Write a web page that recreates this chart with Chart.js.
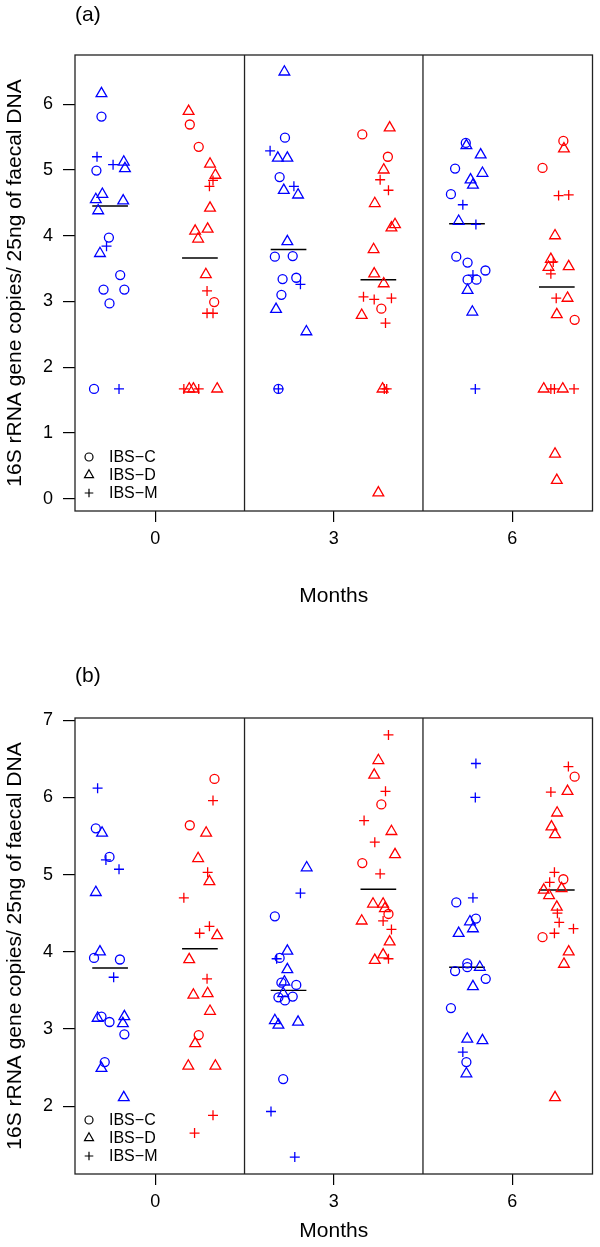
<!DOCTYPE html>
<html>
<head>
<meta charset="utf-8">
<title>16S rRNA gene copies by month</title>
<script src="https://cdn.jsdelivr.net/npm/chart.js@4.4.0/dist/chart.umd.min.js"></script>
<style>
  body { margin: 0; background: #fff; }
  canvas { display: block; }
</style>
</head>
<body>
<canvas id="chartA" width="600" height="620"></canvas>
<canvas id="chartB" width="600" height="627"></canvas>
<script>
// x axis groups
const months = [0, 3, 6];
const monthLabels = ['0', '3', '6'];
const yTicksA = [0, 1, 2, 3, 4, 5, 6];
const yTicksB = [2, 3, 4, 5, 6, 7];
const groupNames = ['IBS\u2212C', 'IBS\u2212D', 'IBS\u2212M'];

// panel (a) - points as [x, y], x already has the jitter seen in the figure
const aBlueC = [[-0.905,5.81],[-0.99,4.99],[-0.78,3.97],[-0.59,3.40],[-0.87,3.18],[-0.52,3.18],[-0.77,2.97],[-1.03,1.67],
  [2.18,5.49],[2.09,4.89],[2.01,3.68],[2.31,3.69],[2.14,3.34],[2.37,3.36],[2.12,3.10],[2.07,1.67],
  [5.22,5.41],[5.04,5.02],[4.97,4.63],[5.06,3.68],[5.25,3.59],[5.55,3.47],[5.25,3.33],[5.40,3.33]];
const aBlueD = [[-0.905,6.16],[-0.53,5.12],[-0.51,5.02],[-0.89,4.63],[-1.0,4.55],[-0.54,4.53],[-0.96,4.38],[-0.93,3.73],
  [2.17,6.49],[2.06,5.18],[2.22,5.18],[2.16,4.69],[2.40,4.62],[2.22,3.91],[2.03,2.88],[2.54,2.54],
  [5.23,5.37],[5.47,5.23],[5.50,4.95],[5.30,4.85],[5.34,4.77],[5.10,4.22],[5.25,3.17],[5.33,2.84]];
const aBlueM = [[-0.98,5.20],[-0.71,5.08],[-0.82,3.84],[-0.61,1.67],
  [1.93,5.29],[2.33,4.75],[2.44,3.26],[2.07,1.67],
  [5.17,4.47],[5.39,4.17],[5.34,3.40],[5.38,1.67]];
const aRedC = [[0.58,5.69],[0.73,5.35],[0.99,2.99],
  [3.48,5.54],[3.91,5.20],[3.80,2.89],
  [6.86,5.44],[6.51,5.03],[7.05,2.72]];
const aRedD = [[0.56,5.89],[0.92,5.09],[1.01,4.92],[0.92,4.42],[0.67,4.07],[0.88,4.10],[0.72,3.95],[0.85,3.41],[0.57,1.67],[0.64,1.67],[1.04,1.67],
  [3.94,5.64],[3.84,5.00],[3.69,4.49],[4.03,4.17],[3.97,4.12],[3.67,3.79],[3.68,3.42],[3.84,3.27],[3.47,2.79],[3.82,1.67],[3.75,0.09],
  [6.87,5.32],[6.72,4.00],[6.65,3.64],[6.61,3.52],[6.95,3.53],[6.93,3.05],[6.75,2.80],[6.53,1.67],[6.85,1.67],[6.72,0.68],[6.75,0.28]];
const aRedM = [[0.97,4.84],[0.91,4.75],[0.87,3.16],[0.87,2.82],[0.97,2.82],[0.48,1.67],[0.73,1.67],
  [3.78,4.85],[3.92,4.69],[3.50,3.07],[3.68,3.03],[3.97,3.05],[3.87,2.67],[3.89,1.67],[3.85,1.67],
  [6.78,4.61],[6.95,4.62],[6.69,3.60],[6.65,3.42],[6.74,3.05],[6.65,1.67],[6.71,1.67],[7.04,1.67]];
const aMeanBlue = [4.45, 3.79, 4.18];
const aMeanRed = [3.66, 3.33, 3.22];

// panel (b)
const bBlueC = [[-1.0,5.60],[-0.77,5.23],[-1.03,3.92],[-0.595,3.90],[-0.905,3.16],[-0.77,3.09],[-0.52,2.93],[-0.85,2.57],
  [2.01,4.46],[2.09,3.92],[2.12,3.60],[2.37,3.57],[2.07,3.41],[2.18,3.37],[2.31,3.42],[2.15,2.35],
  [5.06,4.64],[5.39,4.43],[5.245,3.85],[5.245,3.80],[5.04,3.75],[5.555,3.65],[4.97,3.27],[5.23,2.57]];
const bBlueD = [[-0.895,5.54],[-1.0,4.77],[-0.93,4.00],[-0.97,3.14],[-0.52,3.16],[-0.545,3.07],[-0.905,2.49],[-0.53,2.11],
  [2.545,5.09],[2.22,4.01],[2.22,3.77],[2.17,3.61],[2.15,3.46],[2.01,3.11],[2.07,3.05],[2.40,3.09],
  [5.29,4.39],[5.34,4.30],[5.10,4.24],[5.455,3.80],[5.34,3.55],[5.245,2.87],[5.50,2.85],[5.23,2.42]];
const bBlueM = [[-0.97,6.12],[-0.83,5.19],[-0.61,5.07],[-0.70,3.67],
  [2.44,4.76],[2.04,3.91],[1.945,1.93],[2.345,1.34],
  [5.39,6.44],[5.38,6.00],[5.34,4.70],[5.17,2.70]];
const bRedC = [[0.995,6.24],[0.58,5.64],[0.73,2.92],
  [3.80,5.91],[3.48,5.15],[3.92,4.49],
  [7.05,6.27],[6.86,4.94],[6.51,4.19]];
const bRedD = [[0.855,5.54],[0.72,5.21],[0.91,4.91],[1.04,4.21],[0.57,3.90],[0.64,3.44],[0.88,3.46],[0.92,3.23],[0.67,2.81],[0.555,2.52],[1.01,2.52],
  [3.75,6.48],[3.68,6.29],[3.97,5.56],[4.03,5.26],[3.66,4.62],[3.83,4.62],[3.86,4.56],[3.47,4.40],[3.94,4.13],[3.83,3.96],[3.69,3.89],
  [6.93,6.08],[6.755,5.80],[6.66,5.62],[6.72,5.52],[6.83,4.82],[6.53,4.80],[6.62,4.73],[6.75,4.58],[6.95,4.00],[6.87,3.84],[6.72,2.11]];
const bRedM = [[0.97,5.96],[0.88,5.03],[0.48,4.70],[0.91,4.33],[0.745,4.24],[0.87,3.65],[0.97,1.88],[0.66,1.65],
  [3.92,6.81],[3.87,6.08],[3.51,5.70],[3.69,5.42],[3.78,5.01],[3.83,4.40],[3.97,4.29],[3.92,3.91],
  [6.945,6.40],[6.65,6.07],[6.71,5.03],[6.63,4.90],[6.76,4.50],[6.79,4.38],[7.03,4.30],[6.71,4.24]];
const bMeanBlue = [3.79, 3.50, 3.80];
const bMeanRed = [4.04, 4.81, 4.80];

const FONT = '"Liberation Sans", Arial, sans-serif';
const BLUE = '#0000ff';
const RED = '#ff0000';

function pts(arr) {
  return arr.map(p => ({x: p[0], y: p[1]}));
}

function marks(arr, color, style, r) {
  return {
    data: pts(arr),
    pointStyle: style,
    pointRadius: r,
    pointBorderColor: color,
    pointBackgroundColor: 'rgba(0,0,0,0)',
    pointBorderWidth: 1.3,
    showLine: false
  };
}

function segment(x1, x2, y1, y2, color, w) {
  return {
    data: [{x: x1, y: y1}, {x: x2, y: y2}],
    showLine: true,
    borderColor: color,
    borderWidth: w,
    pointRadius: 0
  };
}

// frame, panel letter and the little legend in the corner
const boxPlugin = {
  id: 'box',
  afterDatasetsDraw(chart, args, opts) {
    const ctx = chart.ctx;
    const a = chart.chartArea;
    ctx.save();
    ctx.strokeStyle = '#222';
    ctx.lineWidth = 1.3;
    ctx.strokeRect(a.left, a.top, a.right - a.left, a.bottom - a.top);

    ctx.fillStyle = '#000';
    ctx.font = '21px ' + FONT;
    ctx.textBaseline = 'middle';
    ctx.textAlign = 'left';
    ctx.fillText(opts.letter, a.left, opts.letterY);

    const styles = ['circle', 'triangle', 'cross'];
    const sizes = [4, 5.2, 4.3];
    const rows = [54, 36, 18];
    ctx.font = '16px ' + FONT;
    for (let i = 0; i < 3; i++) {
      const y = a.bottom - rows[i];
      ctx.fillStyle = 'rgba(0,0,0,0)';
      ctx.strokeStyle = '#000';
      ctx.lineWidth = 1.2;
      Chart.helpers.drawPoint(ctx, {pointStyle: styles[i], radius: sizes[i], borderWidth: 1.2, rotation: 0}, a.left + 14, y);
      ctx.fillStyle = '#000';
      ctx.fillText(groupNames[i], a.left + 34, y + 1);
    }
    ctx.restore();
  }
};

function drawPanel(id, p) {
  let datasets = [
    marks(p.blueC, BLUE, 'circle', 4.5),
    marks(p.blueD, BLUE, 'triangle', 6.2),
    marks(p.blueM, BLUE, 'cross', 5),
    marks(p.redC, RED, 'circle', 4.5),
    marks(p.redD, RED, 'triangle', 6.2),
    marks(p.redM, RED, 'cross', 5)
  ];
  // group means
  for (let i = 0; i < months.length; i++) {
    let cb = months[i] - 0.76;
    let cr = months[i] + 0.75;
    datasets.push(segment(cb - 0.3, cb + 0.3, p.meanBlue[i], p.meanBlue[i], '#000', 1.4));
    datasets.push(segment(cr - 0.3, cr + 0.3, p.meanRed[i], p.meanRed[i], '#000', 1.4));
  }
  // dividers between months
  datasets.push(segment(1.5, 1.5, p.yMin, p.yMax, '#222', 1.3));
  datasets.push(segment(4.5, 4.5, p.yMin, p.yMax, '#222', 1.3));

  return new Chart(document.getElementById(id), {
    type: 'scatter',
    data: {datasets: datasets},
    plugins: [boxPlugin],
    options: {
      responsive: false,
      animation: false,
      events: [],
      layout: {padding: {top: p.padTop, right: 3, bottom: 0, left: 0}},
      plugins: {
        legend: {display: false},
        tooltip: {enabled: false},
        box: {letter: p.letter, letterY: p.letterY}
      },
      scales: {
        x: {
          type: 'linear',
          min: -1.35,
          max: 7.35,
          afterBuildTicks: s => { s.ticks = months.map(v => ({value: v})); },
          afterFit: s => { s.height = p.xHeight; },
          ticks: {
            color: '#000',
            font: {family: FONT, size: 18},
            padding: 6,
            maxRotation: 0,
            autoSkip: false,
            callback: v => monthLabels[months.indexOf(v)]
          },
          grid: {drawOnChartArea: false, tickLength: 11, color: '#000', tickColor: '#000', lineWidth: 1.2},
          border: {display: false},
          title: {display: true, text: 'Months', color: '#000', font: {family: FONT, size: 21}, padding: {top: 0, bottom: p.monthsPad}}
        },
        y: {
          type: 'linear',
          min: p.yMin,
          max: p.yMax,
          afterBuildTicks: s => { s.ticks = p.yTicks.map(v => ({value: v})); },
          afterFit: s => { s.width = 75; },
          ticks: {
            color: '#000',
            font: {family: FONT, size: 18},
            padding: 10,
            callback: v => String(v)
          },
          grid: {drawOnChartArea: false, tickLength: 12, color: '#000', tickColor: '#000', lineWidth: 1.2},
          border: {display: false},
          title: {display: true, text: '16S rRNA gene copies/ 25ng of faecal DNA', color: '#000', font: {family: FONT, size: 21}, padding: {top: 3, bottom: 0}}
        }
      }
    }
  });
}

drawPanel('chartA', {
  blueC: aBlueC, blueD: aBlueD, blueM: aBlueM,
  redC: aRedC, redD: aRedD, redM: aRedM,
  meanBlue: aMeanBlue, meanRed: aMeanRed,
  yTicks: yTicksA, yMin: -0.187, yMax: 6.747,
  padTop: 55, xHeight: 109, monthsPad: 11,
  letter: '(a)', letterY: 15
});

drawPanel('chartB', {
  blueC: bBlueC, blueD: bBlueD, blueM: bBlueM,
  redC: bRedC, redD: bRedD, redM: bRedM,
  meanBlue: bMeanBlue, meanRed: bMeanRed,
  yTicks: yTicksB, yMin: 1.12, yMax: 7.03,
  padTop: 98, xHeight: 73, monthsPad: 3,
  letter: '(b)', letterY: 56
});
</script>
</body>
</html>
